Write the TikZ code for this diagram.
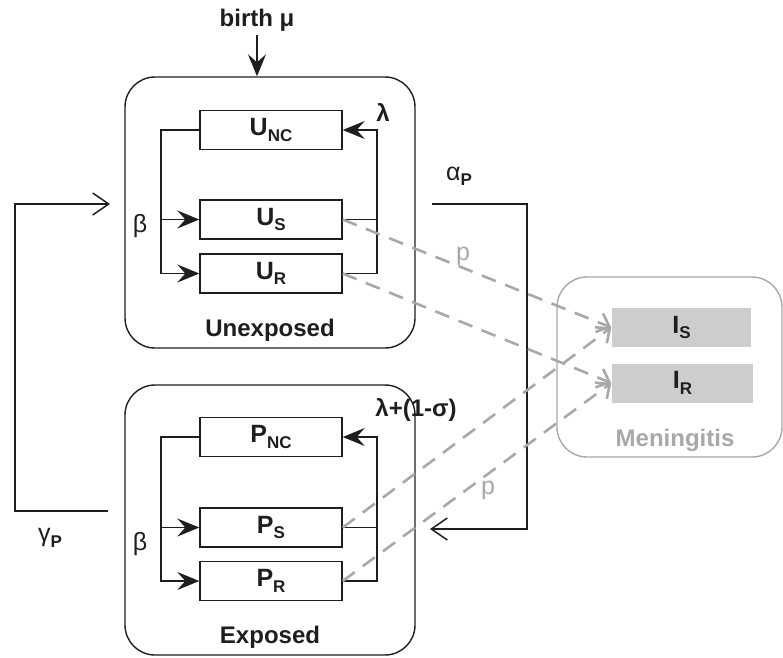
\documentclass[tikz,border=0pt]{standalone}
\usepackage{fontspec}
\setmainfont{Liberation Sans}
\usetikzlibrary{arrows.meta}

\definecolor{dashgrey}{HTML}{A8A8A8}
\definecolor{boxgrey}{HTML}{CDCDCD}
\definecolor{inkblack}{HTML}{1E1E1E}
\newcommand{\lowsub}[1]{\raisebox{-0.4ex}{\fontsize{17}{17}\selectfont #1}}

\begin{document}
\begin{tikzpicture}[x=1pt,y=-1pt,
        line width=1.5pt, inkblack,
        comp/.style={draw, line width=1.4pt, minimum width=142pt, minimum height=39pt,
                     inner sep=0pt, font=\fontsize{25}{28}\selectfont\bfseries},
        sick/.style={fill=boxgrey, minimum height=39pt, inner sep=0pt,
                     font=\fontsize{25}{28}\selectfont\bfseries},
        group/.style={draw, line width=1.4pt, rounded corners=30pt, minimum width=290pt, minimum height=271pt},
        lbl/.style={font=\fontsize{24}{28}\selectfont\bfseries},
        greek/.style={font=\fontsize{25}{28}\selectfont},
        flow/.style={line width=1.5pt, -{Stealth[length=22pt,width=18pt,inset=8pt]}},
        loop/.style={-{Straight Barb[length=16pt,width=22pt]}},
        infect/.style={dashgrey, line width=2.6pt, dash pattern=on 15pt off 10pt,
                       -{Straight Barb[length=11pt,width=20pt]}}]
    \useasboundingbox (0,0) rectangle (783,657);

    % groups
    \node[group] (unexp) at (270,212.5) {};
    \node[group, minimum height=270pt] (exp) at (270,520) {};
    \node[group, draw=dashgrey, minimum width=225pt, minimum height=180pt] (men) at (669.5,367) {};

    \node[lbl] (unexplbl) at (270,330) {Unexposed};
    \node[lbl] (explbl) at (270,637) {Exposed};
    \node[lbl, dashgrey] (menlbl) at (675,440) {Meningitis};

    % compartments
    \node[comp] (unc) at (271,130) {U\lowsub{NC}};
    \node[comp] (us) at (271,219.5) {U\lowsub{S}};
    \node[comp] (ur) at (271,273.5) {U\lowsub{R}};

    \node[comp] (pnc) at (271,437) {P\lowsub{NC}};
    \node[comp] (ps) at (271,527.5) {P\lowsub{S}};
    \node[comp] (pr) at (271,581) {P\lowsub{R}};

    \node[sick, minimum width=139pt] (is) at (681.5,327.5) {I\lowsub{S}};
    \node[sick, minimum width=141pt] (ir) at (682.5,383) {I\lowsub{R}};

    % birth
    \node[lbl] (birth) at (257,20) {birth μ};
    \draw[flow] (birth.south) -- (birth.south |- unexp.north);

    % unexposed flows
    \coordinate (ubus) at (161,219.5);
    \coordinate (urbus) at (377,219.5);
    \draw (unc.west) -| (ubus);
    \draw[flow] (ubus) -- (us.west);
    \draw[flow] (ubus) |- (ur.west);
    \draw[flow] (ur.east) -| (urbus) |- (unc.east);
    \draw (us.east) -- (urbus);
    \node[greek] (ubeta) at (140,226) {β};
    \node[lbl] (ulambda) at (383,112) {λ};

    % exposed flows
    \coordinate (pbus) at (161,527.5);
    \coordinate (prbus) at (377,527.5);
    \draw (pnc.west) -| (pbus);
    \draw[flow] (pbus) -- (ps.west);
    \draw[flow] (pbus) |- (pr.west);
    \draw[flow] (pr.east) -| (prbus) |- (pnc.east);
    \draw (ps.east) -- (prbus);
    \node[greek] (pbeta) at (140,544) {β};
    \node[lbl] (plambda) at (416,410) {λ+(1-σ)};

    % exposure and clearance
    \coordinate (gout) at (108,511);
    \coordinate (gbot) at (15,511);
    \coordinate (gtop) at (15,204);
    \coordinate (gin) at (110,204);
    \draw[loop] (gout) -- (gbot) -- (gtop) -- (gin);
    \node[greek] (gamma) at (50,538) {γ\lowsub{\bfseries P}};

    \coordinate (aout) at (432,204);
    \coordinate (atop) at (527,204);
    \coordinate (abot) at (527,529);
    \coordinate (ain) at (430,529);
    \draw[loop] (aout) -- (atop) -- (abot) -- (ain);
    \node[greek] (alpha) at (459,176) {α\lowsub{\bfseries P}};

    % infection
    \draw[infect] (us.east) -- (is.west);
    \draw[infect] (ur.east) -- (ir.west);
    \draw[infect] (ps.east) -- (is.west);
    \draw[infect] (pr.east) -- (ir.west);
    \node[greek, dashgrey] (pup) at (463,256) {p};
    \node[greek, dashgrey] (pdown) at (488,490) {p};
\end{tikzpicture}
\end{document}
